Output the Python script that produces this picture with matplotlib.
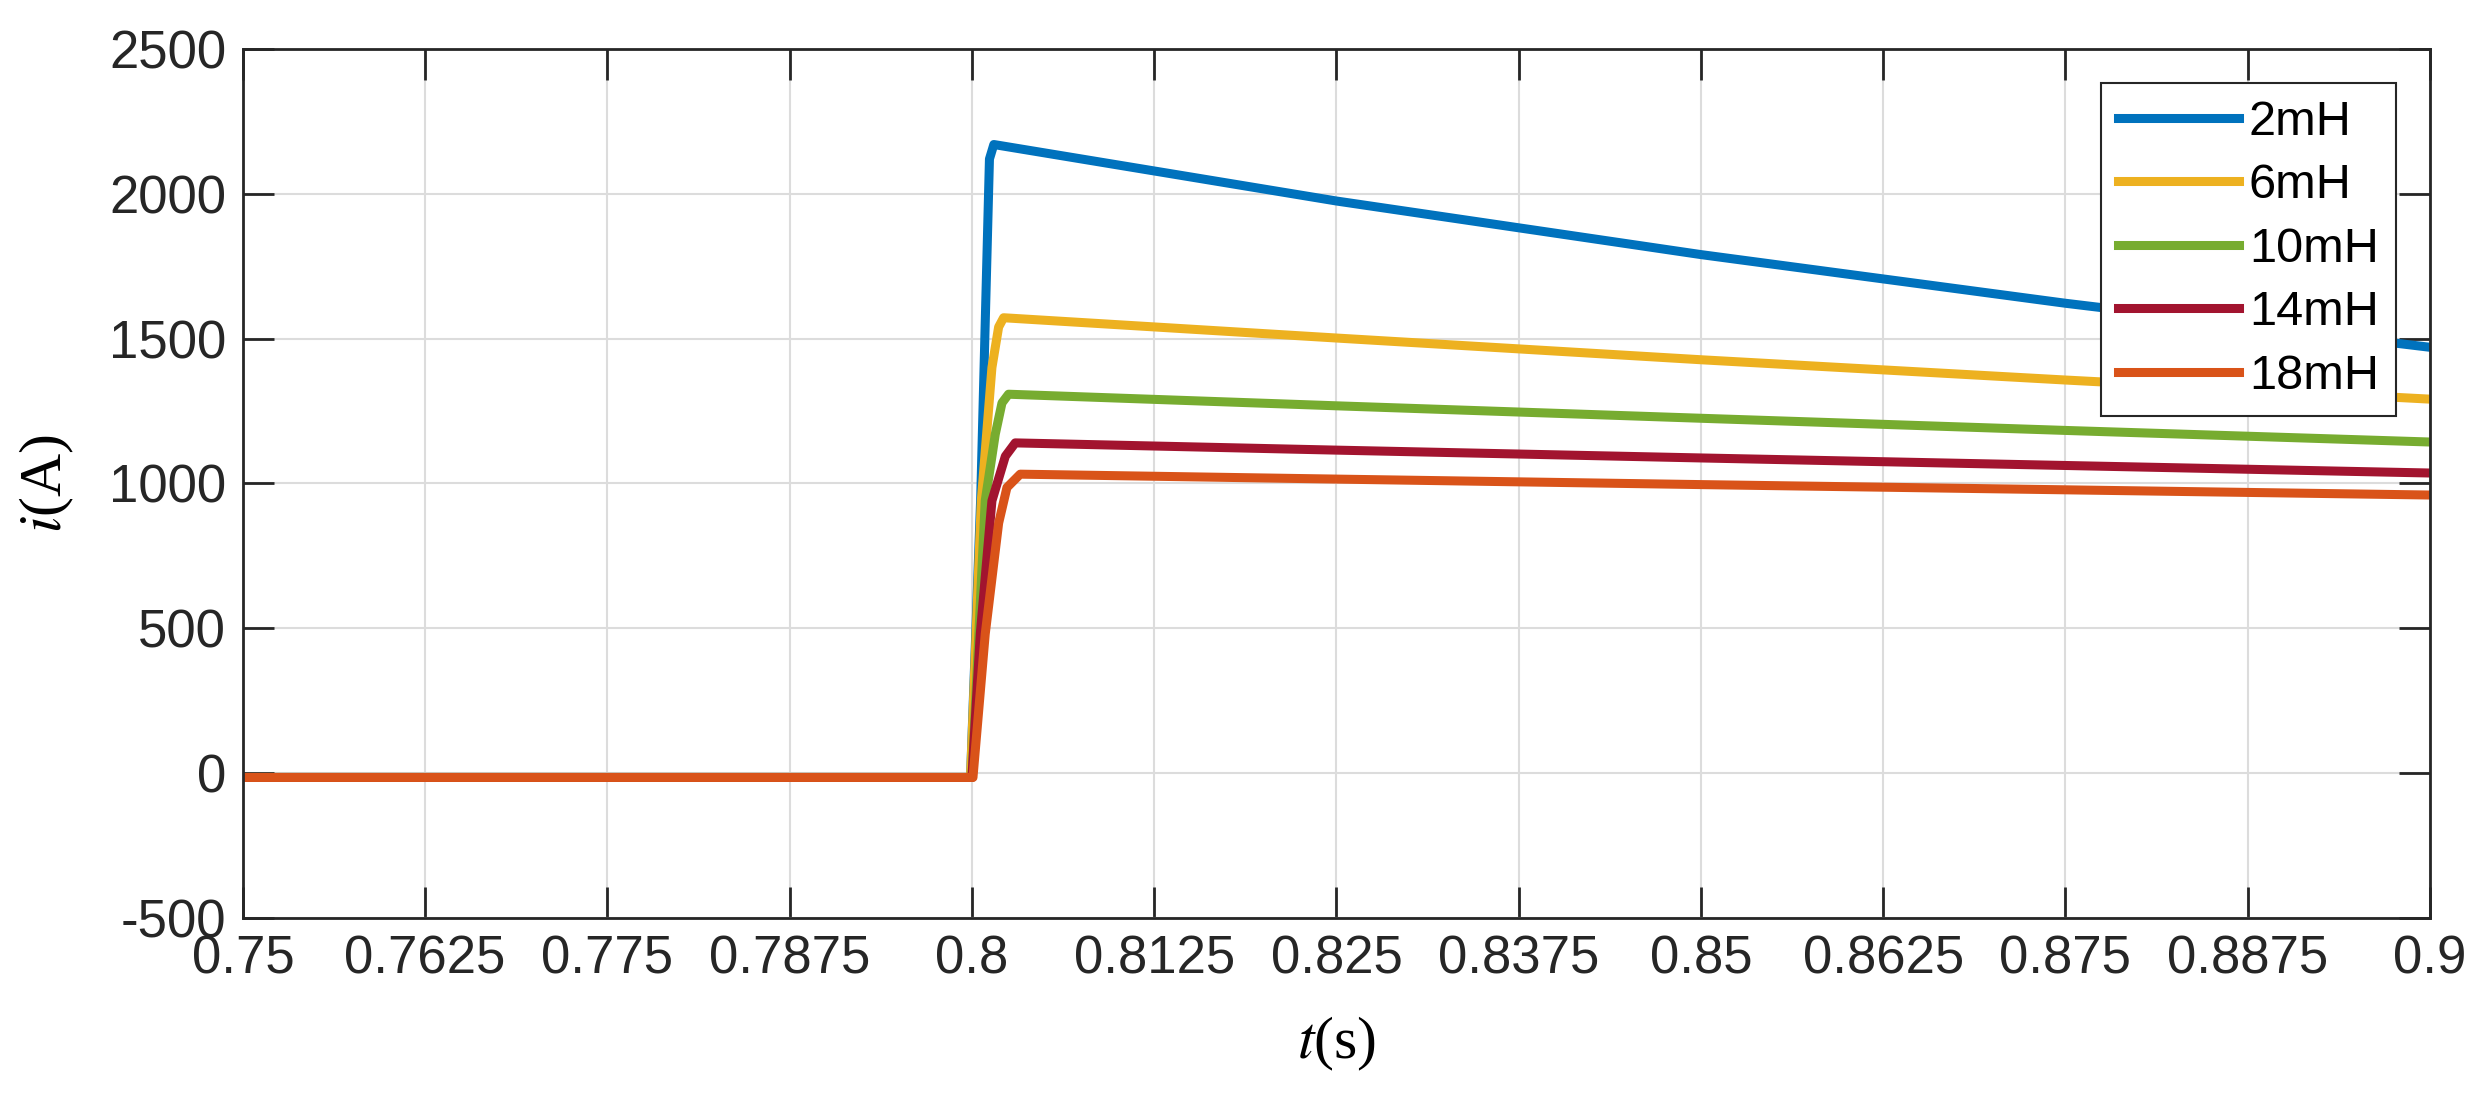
import matplotlib
matplotlib.use("Agg")
import matplotlib.pyplot as plt
from matplotlib.ticker import FormatStrFormatter

plt.rcParams['mathtext.fontset'] = 'stix'
plt.rcParams['axes.unicode_minus'] = False

labels = ['2mH', '6mH', '10mH', '14mH', '18mH']
colors = ['#0072BD', '#EDB120', '#77AC30', '#A2142F', '#D95319']

# time points and currents (A)
t_2mH = [0.75, 0.7999, 0.8006, 0.8012, 0.8015, 0.825, 0.85, 0.875, 0.9]
i_2mH = [-15, -15, 950, 2120, 2170, 1975, 1790, 1622, 1470]
t_6mH = [0.75, 0.7999, 0.80064, 0.80137, 0.80183, 0.80217, 0.825, 0.85, 0.875, 0.9]
i_6mH = [-15, -15, 940, 1400, 1540, 1572, 1502, 1427, 1357, 1291]
t_10mH = [0.75, 0.8, 0.80091, 0.8016, 0.80206, 0.80251, 0.825, 0.85, 0.875, 0.9]
i_10mH = [-15, -15, 940, 1170, 1278, 1308, 1268, 1225, 1183, 1143]
t_14mH = [0.75, 0.8, 0.80057, 0.80137, 0.80229, 0.80297, 0.825, 0.85, 0.875, 0.9]
i_14mH = [-15, -15, 480, 940, 1094, 1140, 1115, 1088, 1062, 1036]
t_18mH = [0.75, 0.80007, 0.80091, 0.80183, 0.8024, 0.80331, 0.825, 0.85, 0.875, 0.9]
i_18mH = [-15, -15, 480, 863, 986, 1032, 1015, 996, 978, 960]

times = [t_2mH, t_6mH, t_10mH, t_14mH, t_18mH]
currents = [i_2mH, i_6mH, i_10mH, i_14mH, i_18mH]

xticks = [0.75, 0.7625, 0.775, 0.7875, 0.8, 0.8125, 0.825, 0.8375, 0.85,
          0.8625, 0.875, 0.8875, 0.9]
yticks = [-500, 0, 500, 1000, 1500, 2000, 2500]

fig = plt.figure(figsize=(24.89, 11.12), dpi=100)
ax = fig.add_axes([0.0976, 0.1745, 0.8787, 0.7815])

for t, i, c, lab in zip(times, currents, colors, labels):
    ax.plot(t, i, color=c, lw=6.5, label=lab, solid_joinstyle='round')

ax.set_xlim(0.75, 0.9)
ax.set_ylim(-500, 2500)
ax.set_xticks(xticks)
ax.set_yticks(yticks)
ax.xaxis.set_major_formatter(FormatStrFormatter('%g'))
ax.grid(True, color='#dcdcdc', lw=1.5)
ax.set_axisbelow(True)

for s in ax.spines.values():
    s.set_linewidth(2)
    s.set_color('#262626')
ax.tick_params(direction='in', length=22, width=2, color='#262626',
               labelcolor='#262626', labelsize=38, top=True, right=True, pad=12)
for lab in ax.get_xticklabels() + ax.get_yticklabels():
    lab.set_family('Liberation Sans')

ax.set_xlabel(r'$t$(s)', fontsize=43, family='Liberation Serif', labelpad=22)
ax.set_ylabel(r'$i$(A)', fontsize=43, family='Liberation Serif', labelpad=24)

leg = ax.legend(loc='upper right', prop={'family': 'Liberation Sans', 'size': 35},
                fancybox=False, edgecolor='#262626', framealpha=1,
                handlelength=2.5, handletextpad=0.2, labelspacing=0.38,
                borderaxespad=0.7, borderpad=0.35)
leg.get_frame().set_linewidth(1.5)

fig.savefig('out.png', dpi=100)
